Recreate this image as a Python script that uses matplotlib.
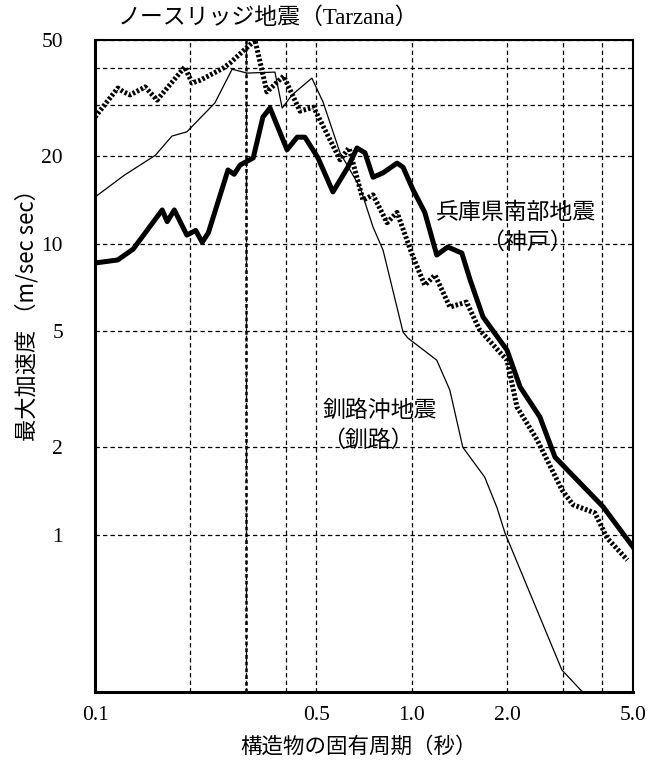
import matplotlib
matplotlib.use('Agg')
import matplotlib.pyplot as plt
from matplotlib.ticker import FixedLocator, FixedFormatter, NullFormatter

# data (period in s, max acceleration in m/s^2)
kobe_t = [0.1, 0.118, 0.132, 0.163, 0.169, 0.178, 0.195, 0.208, 0.218, 0.228,
          0.263, 0.275, 0.287, 0.316, 0.339, 0.357, 0.404, 0.435, 0.46, 0.506,
          0.564, 0.629, 0.672, 0.712, 0.755, 0.812, 0.899, 0.939, 1.01, 1.10,
          1.20, 1.30, 1.44, 1.53, 1.68, 2.0, 2.2, 2.54, 2.835, 4.02, 5.0]
kobe_a = [8.58, 8.79, 9.58, 13.05, 11.9, 13.05, 10.7, 11.1, 10.1, 10.9,
          17.9, 17.3, 18.6, 19.7, 27.2, 29.2, 21.0, 23.2, 23.2, 19.7,
          15.05, 18.3, 21.3, 20.5, 16.9, 17.5, 18.9, 18.3, 15.3, 12.8,
          9.14, 9.74, 9.28, 7.5, 5.6, 4.31, 3.22, 2.54, 1.85, 1.25, 0.909]

north_t = [0.1, 0.118, 0.123, 0.129, 0.144, 0.157, 0.192, 0.2025, 0.215, 0.254,
           0.267, 0.32, 0.349, 0.394, 0.444, 0.49, 0.594, 0.634, 0.702, 0.755,
           0.836, 0.899, 1.01, 1.10, 1.185, 1.32, 1.49, 1.64, 2.0, 2.15,
           2.49, 2.98, 3.23, 3.79, 4.14, 4.8]
north_a = [27.2, 34.2, 33.2, 32.4, 34.5, 31.1, 40.4, 35.6, 36.4, 40.05,
           41.7, 50.0, 33.2, 37.6, 28.5, 29.4, 19.4, 21.3, 14.1, 14.7,
           11.8, 12.8, 9.0, 7.2, 7.8, 6.06, 6.3, 5.05, 3.98, 2.75,
           2.12, 1.43, 1.27, 1.19, 0.976, 0.82]

kushiro_t = [0.1, 0.124, 0.155, 0.175, 0.195, 0.239, 0.271, 0.302, 0.37, 0.39,
             0.419, 0.484, 0.525, 0.594, 0.687, 0.755, 0.812, 0.939, 0.973, 1.20,
             1.32, 1.45, 1.70, 1.86, 1.97, 2.98, 3.66]
kushiro_a = [14.45, 17.2, 20.1, 23.4, 24.2, 30.4, 39.7, 38.5, 38.8, 29.2,
             32.4, 37.0, 30.6, 20.5, 15.6, 11.4, 9.5, 4.97, 4.74, 3.98,
             3.14, 2.0, 1.58, 1.24, 1.016, 0.344, 0.271]

x_major = [0.1, 0.5, 1.0, 2.0, 5.0]
x_labels = ['0.1', '0.5', '1.0', '2.0', '5.0']
x_minor = [0.2, 0.3, 0.4, 3.0, 4.0]
y_major = [1, 2, 5, 10, 20, 50]
y_labels = ['1', '2', '5', '10', '20', '50']
y_minor = [30, 40]

serif = ['Liberation Serif', 'Noto Sans CJK JP']
cjk = ['Noto Sans CJK JP', 'DejaVu Sans']

fig = plt.figure(figsize=(6.49, 7.77), dpi=100)
ax = fig.add_axes([0.1464, 0.1094, 0.829, 0.8391])
ax.set_xscale('log')
ax.set_yscale('log')
ax.set_xlim(0.1, 5.0)
ax.set_ylim(0.289, 50)

ax.plot(kushiro_t, kushiro_a, color='black', lw=0.9, zorder=3)
ax.plot(north_t, north_a, color='black', lw=3.6, linestyle=(0, (0.5, 0.4)),
        dash_capstyle='butt', zorder=4)
ax.plot(kobe_t, kobe_a, color='black', lw=3.6, solid_joinstyle='round', zorder=5)

ax.xaxis.set_major_locator(FixedLocator(x_major))
ax.xaxis.set_major_formatter(FixedFormatter(x_labels))
ax.xaxis.set_minor_locator(FixedLocator(x_minor))
ax.xaxis.set_minor_formatter(NullFormatter())
ax.yaxis.set_major_locator(FixedLocator(y_major))
ax.yaxis.set_major_formatter(FixedFormatter(y_labels))
ax.yaxis.set_minor_locator(FixedLocator(y_minor))
ax.yaxis.set_minor_formatter(NullFormatter())
ax.tick_params(which='both', length=0, labelsize=15.5)
ax.tick_params(axis='y', pad=23)
ax.tick_params(axis='x', pad=10)
for lab in ax.get_xticklabels() + ax.get_yticklabels():
    lab.set_fontfamily(serif)

ax.grid(which='both', color='black', lw=0.9, linestyle=(0, (3.5, 2.5)))
ax.axvline(0.3, color='black', lw=1.8, linestyle=(0, (1.5, 1.2)), zorder=2)

for s in ax.spines.values():
    s.set_linewidth(1.5)
ax.spines['left'].set_linewidth(2.2)
ax.spines['bottom'].set_linewidth(2.2)

fig.text(0.552, 1 - 747 / 777, '構造物の固有周期（秒）', family=cjk, fontsize=15.5,
         ha='center', va='center')
fig.text(27 / 649, 1 - 310 / 777, '最大加速度 （m/sec sec）', family=cjk, fontsize=16,
         ha='center', va='center', rotation=90)

fig.text(0.413, 0.977, 'ノースリッジ地震（Tarzana）', family=serif, fontsize=16.5,
         ha='center', va='center')
ax.text(0.7825, 0.736, '兵庫県南部地震', family=cjk, fontsize=16.5,
        ha='center', va='center', transform=ax.transAxes)
ax.text(0.803, 0.690, '（神戸）', family=cjk, fontsize=16.5,
        ha='center', va='center', transform=ax.transAxes)
ax.text(0.53, 0.4325, '釧路沖地震', family=cjk, fontsize=16.5,
        ha='center', va='center', transform=ax.transAxes)
ax.text(0.507, 0.3865, '（釧路）', family=cjk, fontsize=16.5,
        ha='center', va='center', transform=ax.transAxes)

fig.savefig('out.png', dpi=100)
